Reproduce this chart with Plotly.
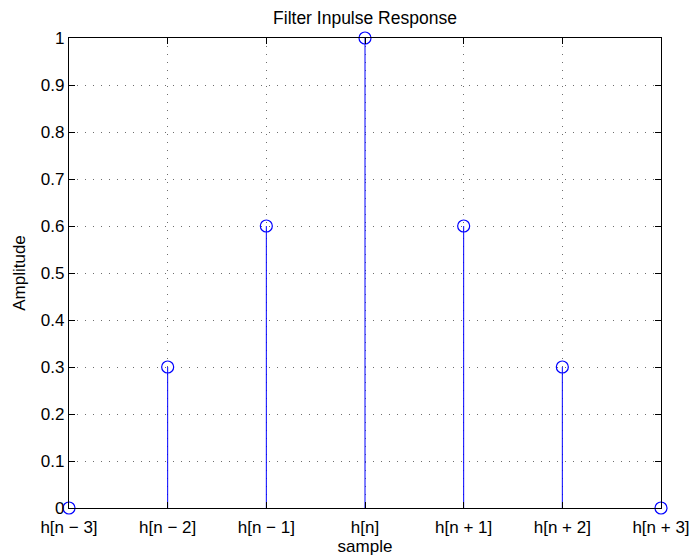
import plotly.graph_objects as go

# Filter impulse response taps
samples = ["h[n − 3]", "h[n − 2]", "h[n − 1]", "h[n]", "h[n + 1]", "h[n + 2]", "h[n + 3]"]
amplitude = [0, 0.3, 0.6, 1, 0.6, 0.3, 0]
y_ticks = [0, 0.1, 0.2, 0.3, 0.4, 0.5, 0.6, 0.7, 0.8, 0.9, 1]

positions = list(range(len(samples)))

blue = "rgb(0,0,255)"
font = dict(family="Liberation Sans, Arial, Helvetica, sans-serif", size=17, color="black")

fig = go.Figure()
# Stems drawn as downward error bars reaching the zero baseline, circles on top
fig.add_trace(go.Scatter(
    x=positions, y=amplitude, mode="markers",
    marker=dict(symbol="circle-open", size=12, color=blue, line=dict(width=1.2, color=blue)),
    error_y=dict(type="data", symmetric=False, array=[0] * len(amplitude),
                 arrayminus=amplitude, color=blue, thickness=1, width=0),
    showlegend=False, cliponaxis=False))

axis_common = dict(showline=True, mirror="ticks", linecolor="black", linewidth=1.3,
                   ticks="inside", ticklen=6, tickcolor="black", tickwidth=1,
                   showgrid=True, gridcolor="rgb(110,110,110)", griddash="1px,7px", gridwidth=1,
                   zeroline=False, tickfont=font, automargin=False)

fig.update_layout(
    width=691, height=556,
    margin=dict(l=69, r=30, t=38, b=48),
    paper_bgcolor="white", plot_bgcolor="white",
    font=font,
    title=dict(text="Filter Inpulse Response", x=0.5, xref="paper", xanchor="center",
               y=1 - 18 / 556, yref="container", yanchor="middle",
               font=dict(family=font["family"], size=17.5, color="black")),
    xaxis=dict(range=[0, 6], tickvals=positions, ticktext=samples, ticklabelstandoff=3,
               title=dict(text="sample", standoff=2, font=font), **axis_common),
    yaxis=dict(range=[0, 1], tickvals=y_ticks, ticktext=[f"{t:g}" for t in y_ticks],
               title=dict(text="Amplitude", standoff=10, font=font), **axis_common),
)

fig.write_html("out.html")
